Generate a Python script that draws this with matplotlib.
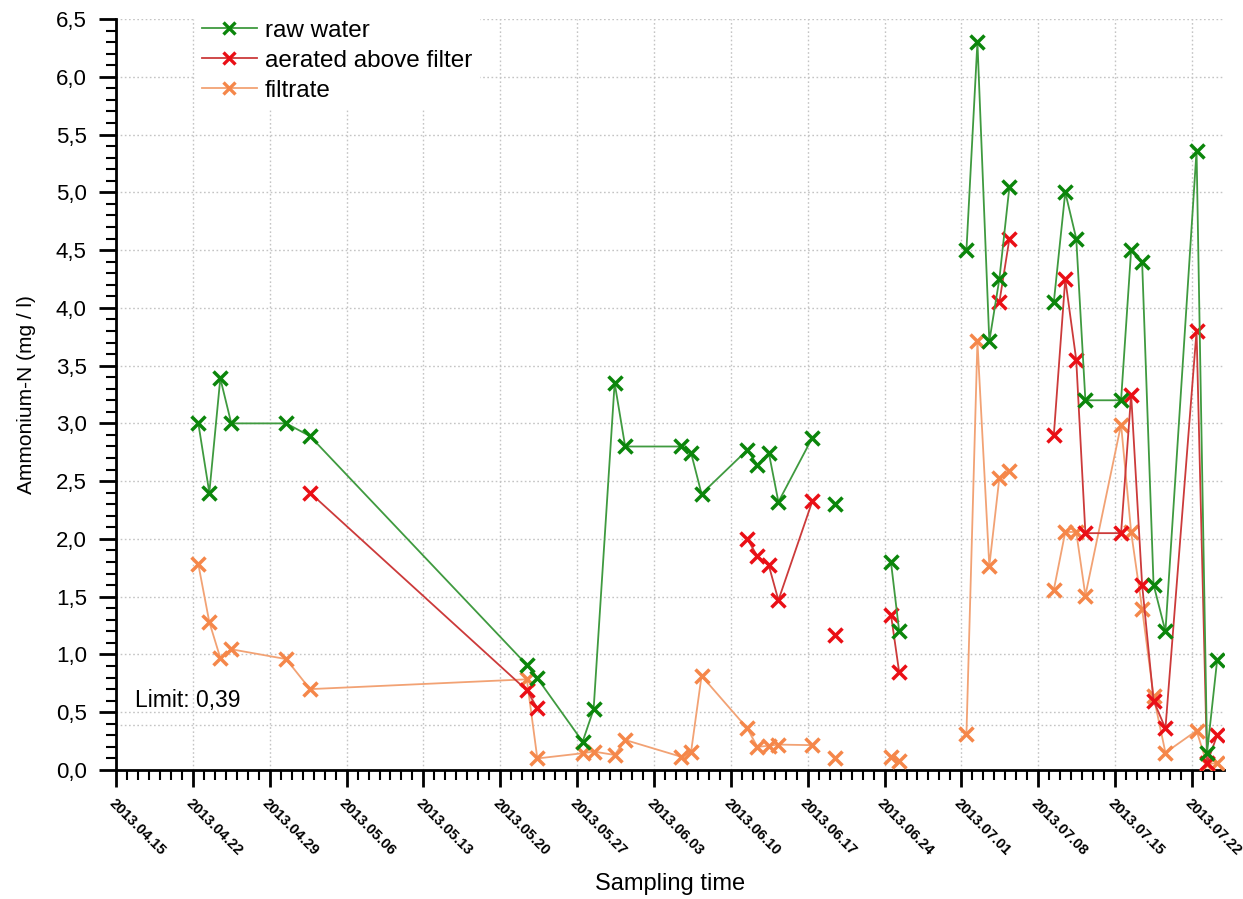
import numpy as np
import pandas as pd
import matplotlib
matplotlib.use("Agg")
import matplotlib.pyplot as plt
import matplotlib.dates as mdates
from matplotlib.ticker import MultipleLocator, FuncFormatter

plt.rcParams['font.family'] = ['Liberation Sans', 'DejaVu Sans']

# sampling times and measured ammonium-N (mg/l), nan = not measured
sample_time = [
    '2013-04-22 12:00', '2013-04-23 12:00', '2013-04-24 12:00', '2013-04-25 12:00',
    '2013-04-30 12:00', '2013-05-02 16:00', '2013-05-22 10:00', '2013-05-23 09:00',
    '2013-05-27 12:00', '2013-05-28 12:00', '2013-05-30 10:00', '2013-05-31 09:00',
    '2013-06-05 11:00', '2013-06-06 09:00', '2013-06-07 08:00', '2013-06-11 12:00',
    '2013-06-12 10:00', '2013-06-13 11:00', '2013-06-14 08:00', '2013-06-17 10:00',
    '2013-06-19 12:00', '2013-06-24 14:00', '2013-06-25 08:00', '2013-07-01 11:00',
    '2013-07-02 11:00', '2013-07-03 13:00', '2013-07-04 11:00', '2013-07-05 09:00',
    '2013-07-09 10:00', '2013-07-10 11:00', '2013-07-11 11:00', '2013-07-12 07:00',
    '2013-07-15 13:00', '2013-07-16 11:00', '2013-07-17 11:00', '2013-07-18 12:00',
    '2013-07-19 14:00', '2013-07-22 10:00', '2013-07-23 09:00', '2013-07-24 07:00',
]
# measurement campaign of each sample; lines are not drawn across campaigns
campaign = [1] * 20 + [2] + [3] * 2 + [4] * 5 + [5] * 12

nan = np.nan
raw_water = [
    3.00, 2.40, 3.39, 3.00, 3.00, 2.89, 0.91, 0.795, 0.245, 0.525,
    3.35, 2.80, 2.80, 2.745, 2.39, 2.77, 2.64, 2.745, 2.32, 2.875,
    2.30, 1.80, 1.20, 4.50, 6.30, 3.71, 4.25, 5.05, 4.05, 5.00,
    4.60, 3.20, 3.20, 4.50, 4.40, 1.605, 1.20, 5.36, 0.15, 0.95,
]
aerated = [
    nan, nan, nan, nan, nan, 2.40, 0.69, 0.535, nan, nan,
    nan, nan, nan, nan, nan, 2.00, 1.85, 1.77, 1.47, 2.325,
    1.17, 1.345, 0.845, nan, nan, nan, 4.05, 4.60, 2.90, 4.25,
    3.55, 2.05, 2.05, 3.25, 1.605, 0.60, 0.36, 3.80, 0.06, 0.30,
]
filtrate = [
    1.78, 1.28, 0.97, 1.045, 0.96, 0.70, 0.785, 0.10, 0.145, 0.16,
    0.13, 0.26, 0.115, 0.155, 0.815, 0.36, 0.20, 0.21, 0.22, 0.215,
    0.10, 0.11, 0.08, 0.31, 3.71, 1.765, 2.53, 2.59, 1.56, 2.06,
    2.06, 1.51, 2.99, 2.06, 1.395, 0.64, 0.15, 0.34, 0.05, 0.06,
]
limit = 0.39

df = pd.DataFrame({
    'time': pd.to_datetime(sample_time),
    'campaign': campaign,
    'raw water': raw_water,
    'aerated above filter': aerated,
    'filtrate': filtrate,
})

series = [
    # name, marker colour, line colour, zorder
    ('raw water', '#0b860b', '#3f9a3f', 5),
    ('aerated above filter', '#ea0f16', '#cc3a3a', 4),
    ('filtrate', '#f5874a', '#f2a274', 3),
]

fig = plt.figure(figsize=(12.43, 8.99), dpi=100)
ax = fig.add_axes([116 / 1243, 1 - 770 / 899, 1108 / 1243, 751 / 899])

grid_kw = dict(color='#c4c4c4', linestyle=(0, (1.2, 1.8)), linewidth=1.0)

for name, mcol, lcol, z in series:
    for _, grp in df.groupby('campaign'):
        ax.plot(grp['time'], grp[name], color=lcol, lw=1.3, zorder=z)
    ax.plot(df['time'], df[name], ls='none', marker='x', ms=10, mew=2.5,
            color=mcol, zorder=z + 0.5)
    # legend proxy: line - marker - line
    ax.plot([], [], color=lcol, lw=1.3, marker='x', ms=8.5, mew=2.4,
            mec=mcol, label=name)

ax.axhline(limit, zorder=1, **grid_kw)
ax.text(0.017, 0.0839, 'Limit: 0,39', transform=ax.transAxes,
        fontsize=16.5, va='baseline', ha='left')

ax.set_xlim(pd.Timestamp('2013-04-15'), pd.Timestamp('2013-07-24 22:00'))
ax.set_ylim(0, 6.5)

ax.xaxis.set_major_locator(mdates.WeekdayLocator(byweekday=mdates.MO))
ax.xaxis.set_minor_locator(mdates.DayLocator())
ax.xaxis.set_major_formatter(mdates.DateFormatter('%Y.%m.%d'))
ax.yaxis.set_major_locator(MultipleLocator(0.5))
ax.yaxis.set_minor_locator(MultipleLocator(0.1))
ax.yaxis.set_major_formatter(FuncFormatter(lambda v, p: f'{v:.1f}'.replace('.', ',')))

ax.grid(True, which='major', zorder=0, **grid_kw)
ax.set_axisbelow(True)
ax.get_ygridlines()[-1].set_visible(False)

for s in ['top', 'right']:
    ax.spines[s].set_visible(False)
for s in ['left', 'bottom']:
    ax.spines[s].set_linewidth(2)

ax.tick_params(which='major', direction='out', length=12, width=2)
ax.tick_params(which='minor', direction='out', length=7, width=1.5)
ax.tick_params(axis='y', labelsize=16, pad=9)
ax.tick_params(axis='x', pad=7)
for lbl in ax.get_xticklabels():
    lbl.set_rotation(-45)
    lbl.set_rotation_mode('anchor')
    lbl.set_ha('left')
    lbl.set_va('top')
    lbl.set_fontsize(10.5)
    lbl.set_fontweight('bold')

ax.set_xlabel('Sampling time', fontsize=17, va='top')
ax.xaxis.set_label_coords(0.5, (770 - 873) / 751)
ax.set_ylabel('Ammonium-N (mg / l)', fontsize=15)
ax.yaxis.set_label_coords((36 - 116) / 1108, 0.5)

leg = ax.legend(loc='upper left', bbox_to_anchor=(0.06, 1.025), fontsize=17.5,
                numpoints=1, handlelength=2.26, handletextpad=0.33,
                labelspacing=0.33, borderpad=0.3, frameon=True, fancybox=False,
                framealpha=1, facecolor='white', edgecolor='white')
leg.set_zorder(10)

fig.savefig('out.png', dpi=100)
